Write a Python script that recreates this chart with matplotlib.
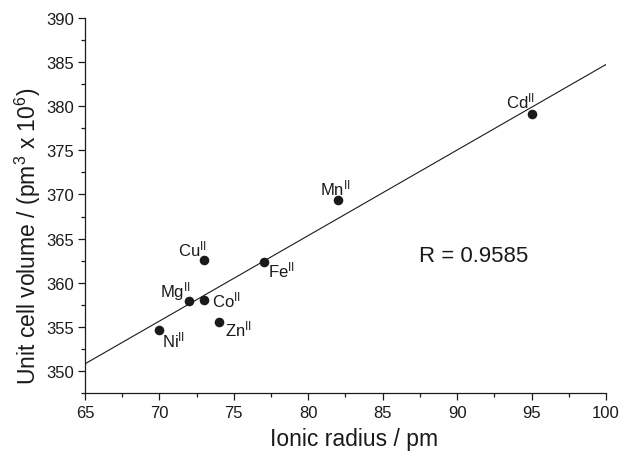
import numpy as np
import matplotlib
matplotlib.use("Agg")
import matplotlib.pyplot as plt
from matplotlib.ticker import MultipleLocator

plt.rcParams['font.family'] = ['Liberation Sans', 'DejaVu Sans']
plt.rcParams['mathtext.fontset'] = 'custom'
plt.rcParams['mathtext.rm'] = 'Liberation Sans'
plt.rcParams['mathtext.it'] = 'Liberation Sans:italic'
plt.rcParams['mathtext.bf'] = 'Liberation Sans:bold'

# Data
ions = ['Ni', 'Mg', 'Co', 'Cu', 'Zn', 'Fe', 'Mn', 'Cd']
radius = [70, 72, 73, 73, 74, 77, 82, 95]
volume = [354.6, 357.9, 358.05, 362.6, 355.5, 362.4, 369.35, 379.1]
r_text = 'R = 0.9585'

# label placement (offset pixels, horizontal alignment)
offsets = {
    'Ni': ((3, -16), 'left'),
    'Mg': ((1, 5), 'right'),
    'Co': ((8, -6), 'left'),
    'Cu': ((3, 4), 'right'),
    'Zn': ((6, -13), 'left'),
    'Fe': ((4, -15), 'left'),
    'Mn': ((-18, 6), 'left'),
    'Cd': ((3, 7), 'right'),
}

W, H = 621, 452
fig = plt.figure(figsize=(W / 100, H / 100), dpi=100)
ax = fig.add_axes([85 / W, 1 - 394 / H, (606 - 85) / W, (394 - 19) / H])

col = '#1a1a1a'
# fit line
slope, icpt = np.polyfit(radius, volume, 1)
xl = np.array([65, 100])
ax.plot(xl, slope * xl + icpt, color=col, lw=0.8)

ax.scatter(radius, volume, s=48, color=col, zorder=3, linewidths=0)

for name, x, y in zip(ions, radius, volume):
    (dx, dy), ha = offsets[name]
    ax.annotate(name + r'$^{\mathregular{II}}$', (x, y), xytext=(dx, dy),
                textcoords='offset pixels', ha=ha, va='baseline',
                fontsize=12, color=col)

ax.text(87.44, 362.44, r_text, fontsize=16, ha='left', va='baseline', color=col)

ax.set_xlim(65, 100)
ax.set_ylim(347.5, 390)
ax.xaxis.set_major_locator(MultipleLocator(5))
ax.xaxis.set_minor_locator(MultipleLocator(2.5))
ax.yaxis.set_major_locator(MultipleLocator(5))
ax.yaxis.set_minor_locator(MultipleLocator(2.5))
ax.set_yticks([350, 355, 360, 365, 370, 375, 380, 385, 390])

for s in ['top', 'right']:
    ax.spines[s].set_visible(False)
for s in ['left', 'bottom']:
    ax.spines[s].set_linewidth(0.9)
    ax.spines[s].set_color(col)

ax.tick_params(which='major', direction='out', length=5, width=0.9,
               labelsize=12, colors=col, pad=3)
ax.tick_params(which='minor', direction='out', length=3, width=0.9, colors=col)
ax.tick_params(axis='x', which='major', pad=4)

fig.text(354 / W, 1 - 446 / H, 'Ionic radius / pm', fontsize=16.5,
         ha='center', va='baseline', color=col)
fig.text(36 / W, 1 - 236 / H,
         r'Unit cell volume / (pm$^{\mathregular{3}}$ x 10$^{\mathregular{6}}$)',
         fontsize=16.5, rotation=90, rotation_mode='anchor',
         ha='center', va='baseline', color=col)

fig.savefig('out.png', dpi=100)
